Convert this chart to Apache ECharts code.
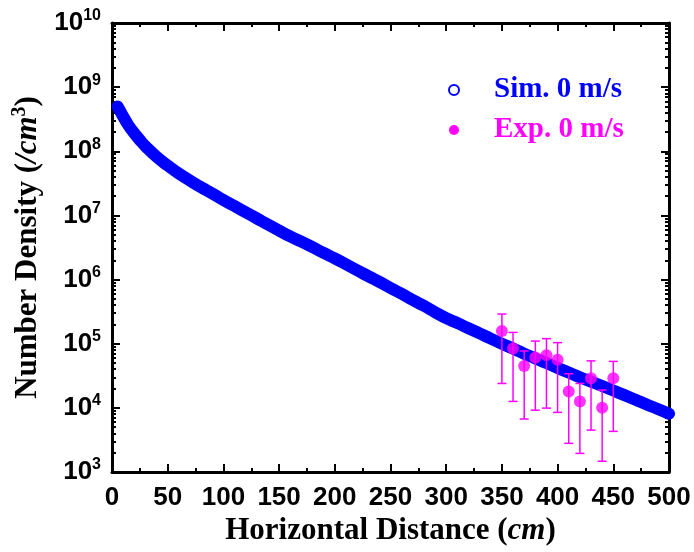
<!DOCTYPE html>
<html>
<head>
<meta charset="utf-8">
<script src="https://cdn.jsdelivr.net/npm/echarts@6/dist/echarts.min.js"></script>
<style>
html,body{margin:0;padding:0;background:#fff;}
#chart{width:694px;height:552px;}
</style>
</head>
<body>
<div id="chart"></div>
<script>
// Simulation (Sim. 0 m/s)
const simX = [5, 10, 15, 20, 25, 30, 40, 50, 60, 70, 80, 90, 100, 110, 120, 130, 140, 150, 160, 170, 180, 190, 200,
  210, 220, 230, 240, 250, 260, 270, 280, 290, 300, 310, 320, 330, 340, 350, 360, 370, 380, 390, 400,
  410, 420, 430, 440, 450, 460, 470, 480, 490, 500];
const simY = [5.0e8, 3.5e8, 2.5e8, 1.91e8, 1.5e8, 1.2e8, 8.2e7, 6.0e7, 4.5e7, 3.5e7, 2.75e7, 2.2e7, 1.74e7, 1.4e7,
  1.12e7, 9.0e6, 7.2e6, 5.8e6, 4.7e6, 3.9e6, 3.2e6, 2.6e6, 2.14e6, 1.73e6, 1.4e6, 1.13e6, 9.2e5, 7.4e5,
  6.0e5, 4.8e5, 3.9e5, 3.1e5, 2.5e5, 2.1e5, 1.74e5, 1.45e5, 1.2e5, 1.0e5, 8.4e4, 7.0e4, 5.9e4, 5.0e4,
  4.2e4, 3.55e4, 3.0e4, 2.57e4, 2.19e4, 1.86e4, 1.58e4, 1.34e4, 1.13e4, 9.6e3, 8.1e3];

// Experiment (Exp. 0 m/s)
const expX = [350, 360, 370, 380, 390, 400, 410, 420, 430, 440, 450];
const expY = [1.58e5, 8.4e4, 4.5e4, 6.1e4, 6.6e4, 5.6e4, 1.8e4, 1.26e4, 2.9e4, 1.0e4, 2.9e4];
const expHigh = [2.9e5, 1.5e5, 7.7e4, 1.1e5, 1.2e5, 1.04e5, 3.4e4, 2.4e4, 5.4e4, 1.9e4, 5.3e4];
const expLow = [2.4e4, 1.26e4, 6.7e3, 9.2e3, 9.9e3, 8.5e3, 2.8e3, 1.95e3, 4.5e3, 1.47e3, 4.3e3];

// Axis ticks
const xMin = 0, xMax = 500, xStep = 50;
const yMajor = [1e3, 1e4, 1e5, 1e6, 1e7, 1e8, 1e9, 1e10];
const yMinor = [];
for (let d = 0; d < yMajor.length - 1; d++) {
  for (let m = 2; m <= 9; m++) yMinor.push(m * yMajor[d]);
}

const seriesNames = ['Sim. 0 m/s', 'Exp. 0 m/s'];
const BLUE = '#0000FF', MAG = '#FF00FF';
const SANS = 'Liberation Sans, Arial, sans-serif';
const SERIF = 'Liberation Serif, Times New Roman, serif';

const chart = echarts.init(document.getElementById('chart'), null, {renderer: 'canvas'});

const yLabelRich = {
  b: {fontSize: 26, fontWeight: 'bold', fontFamily: SANS, color: '#000', lineHeight: 30},
  s: {fontSize: 16, fontWeight: 'bold', fontFamily: SANS, color: '#000', lineHeight: 16, verticalAlign: 'top'}
};

function xAxisCfg(pos, labels) {
  return {
    type: 'value', position: pos, min: xMin, max: xMax, interval: xStep,
    axisLine: {show: true, onZero: false, lineStyle: {color: '#000', width: 3}},
    axisTick: {show: true, inside: true, length: 8, lineStyle: {color: '#000', width: 2}},
    minorTick: {show: true, splitNumber: 2, length: 4, lineStyle: {color: '#000', width: 2}},
    splitLine: {show: false},
    axisLabel: labels ? {show: true, margin: 13, color: '#000', fontSize: 26, fontWeight: 'bold', fontFamily: SANS} : {show: false},
    name: labels ? 'Horizontal Distance ({i|cm})' : '',
    nameLocation: 'middle', nameGap: 29,
    nameTextStyle: {fontSize: 31, fontWeight: 'bold', fontFamily: SERIF, color: '#000',
      rich: {i: {fontSize: 31, fontWeight: 'bold', fontStyle: 'italic', fontFamily: SERIF, color: '#000'}}}
  };
}

function yAxisCfg(pos, major, labels) {
  const cfg = {
    type: 'log', logBase: 10, position: pos, min: 1e3, max: 1e10,
    axisLine: {show: major, onZero: false, lineStyle: {color: '#000', width: 3}},
    axisTick: {show: true, inside: true, length: major ? 8 : 4, customValues: major ? yMajor : yMinor,
      lineStyle: {color: '#000', width: 2}},
    splitLine: {show: false},
    axisLabel: {show: false}
  };
  if (labels) {
    cfg.axisLabel = {show: true, margin: 11, customValues: yMajor,
      formatter: v => '{b|10}{s|' + Math.round(Math.log10(v)) + '}', rich: yLabelRich};
    cfg.name = 'Number Density ({i|/cm}{s|3})';
    cfg.nameLocation = 'middle';
    cfg.nameGap = 66;
    cfg.nameTextStyle = {fontSize: 31, fontWeight: 'bold', fontFamily: SERIF, color: '#000',
      rich: {
        i: {fontSize: 31, fontWeight: 'bold', fontStyle: 'italic', fontFamily: SERIF, color: '#000', lineHeight: 36},
        s: {fontSize: 20, fontWeight: 'bold', fontFamily: SERIF, color: '#000', lineHeight: 20, verticalAlign: 'top'}
      }};
  }
  return cfg;
}

const option = {
  backgroundColor: '#fff',
  animation: false,
  grid: {left: 112, right: 25, top: 23, bottom: 80, containLabel: false},
  legend: {
    orient: 'vertical', left: 443, top: 70, itemGap: 10,
    itemWidth: 10, itemHeight: 10,
    textStyle: {fontSize: 29, fontWeight: 'bold', fontFamily: SERIF, lineHeight: 30, padding: [0, 0, 0, 30]},
    data: [
      {name: seriesNames[0], icon: 'emptyCircle', itemStyle: {color: BLUE, borderColor: BLUE, borderWidth: 1.5},
        textStyle: {color: BLUE}},
      {name: seriesNames[1], icon: 'circle', itemStyle: {color: MAG}, textStyle: {color: MAG}}
    ]
  },
  xAxis: [xAxisCfg('bottom', true), xAxisCfg('top', false)],
  yAxis: [yAxisCfg('left', true, true), yAxisCfg('left', false, false),
          yAxisCfg('right', true, false), yAxisCfg('right', false, false)],
  series: [
    {
      name: seriesNames[0], type: 'line', xAxisIndex: 0, yAxisIndex: 0,
      data: simX.map((x, i) => [x, simY[i]]),
      smooth: true, symbol: 'none',
      lineStyle: {color: BLUE, width: 12, cap: 'round', join: 'round'},
      itemStyle: {color: BLUE},
      z: 2
    },
    {
      name: seriesNames[1], type: 'custom', xAxisIndex: 0, yAxisIndex: 0,
      data: expX.map((x, i) => [x, expLow[i], expHigh[i]]),
      renderItem: function (params, api) {
        const x = api.value(0);
        const pLo = api.coord([x, api.value(1)]);
        const pHi = api.coord([x, api.value(2)]);
        const w = 4.5;
        const st = {stroke: MAG, lineWidth: 1.5};
        return {
          type: 'group',
          children: [
            {type: 'line', shape: {x1: pHi[0], y1: pHi[1], x2: pLo[0], y2: pLo[1]}, style: st},
            {type: 'line', shape: {x1: pHi[0] - w, y1: pHi[1], x2: pHi[0] + w, y2: pHi[1]}, style: st},
            {type: 'line', shape: {x1: pLo[0] - w, y1: pLo[1], x2: pLo[0] + w, y2: pLo[1]}, style: st}
          ]
        };
      },
      z: 3
    },
    {
      name: seriesNames[1], type: 'scatter', xAxisIndex: 0, yAxisIndex: 0,
      data: expX.map((x, i) => [x, expY[i]]),
      symbol: 'circle', symbolSize: 12,
      itemStyle: {color: MAG},
      z: 4
    }
  ]
};
chart.setOption(option);
</script>
</body>
</html>
